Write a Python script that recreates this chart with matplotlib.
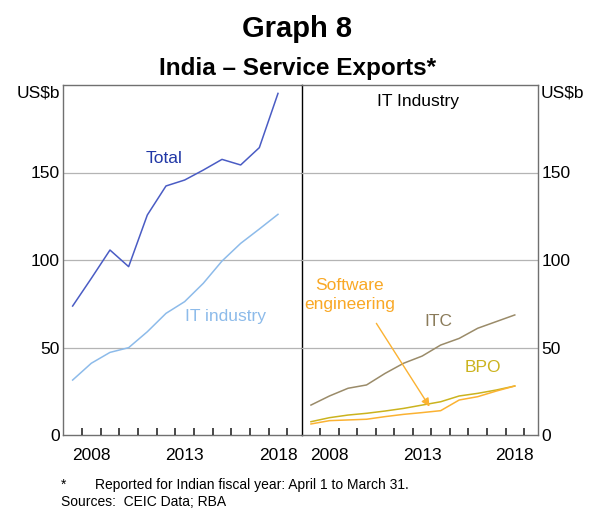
import matplotlib.pyplot as plt
from matplotlib.markers import TICKUP

plt.rcParams['font.family'] = ['Liberation Sans', 'DejaVu Sans']

years = [2007, 2008, 2009, 2010, 2011, 2012, 2013, 2014, 2015, 2016, 2017, 2018]

# left panel, US$b
total = [73.7, 89.5, 105.7, 96.2, 125.7, 142.3, 145.7, 151.4, 157.5, 154.3, 164.2, 195.2]
it_industry = [31.4, 41.0, 47.2, 49.9, 59.0, 69.5, 76.2, 86.7, 99.4, 109.5, 117.7, 126.1]

# right panel, US$b
itc = [17.1, 22.3, 26.7, 28.6, 35.2, 41.0, 45.1, 51.4, 55.2, 61.0, 64.8, 68.6]
bpo = [7.6, 9.9, 11.4, 12.4, 13.7, 15.2, 17.1, 19.0, 22.3, 23.8, 25.7, 28.0]
software = [6.3, 8.2, 8.6, 9.0, 10.5, 11.8, 12.8, 13.9, 20.0, 21.9, 25.1, 28.0]

year_labels = [2008, 2013, 2018]
y_ticks = [0, 50, 100, 150]

W, H = 595, 509
fig = plt.figure(figsize=(W / 100, H / 100), dpi=100)

x0, xm, x1 = 63.3, 301.7, 538.3
ytop, ybot = 85, 435
ax1 = fig.add_axes([x0 / W, 1 - ybot / H, (xm - x0) / W, (ybot - ytop) / H])
ax2 = fig.add_axes([xm / W, 1 - ybot / H, (x1 - xm) / W, (ybot - ytop) / H])
ax2.patch.set_visible(False)

frame = '#707070'
fs = 12.5
boundaries = [y + 0.5 for y in range(2007, 2019)]
for ax in (ax1, ax2):
    ax.set_xlim(2006.5, 2019.27)
    ax.set_ylim(0, 200)
    ax.set_yticks(y_ticks)
    for v in [50, 100, 150]:
        ax.axhline(v, color='#b4b4b4', lw=0.9, zorder=0)
    ax.set_xticks(year_labels)
    ax.tick_params(axis='x', length=0, labelsize=fs, pad=9)
    ax.tick_params(axis='y', length=0, labelsize=fs, pad=2.5)
    # small upward marks at the year boundaries
    ax.plot(boundaries, [0] * len(boundaries), linestyle='none', marker=TICKUP,
            markersize=5, markeredgewidth=1.2, color='#2a2a2a',
            clip_on=False, zorder=6)
    for s in ax.spines.values():
        s.set_color(frame)
        s.set_linewidth(1.0)

ax1.spines['right'].set_color('black')
ax1.spines['right'].set_zorder(5)
ax2.spines['left'].set_visible(False)
ax2.yaxis.tick_right()

# left panel
ax1.plot(years, total, color='#4a5cc4', lw=1.1)
ax1.plot(years, it_industry, color='#8dbbea', lw=1.1)
ax1.text(2011.9, 158, 'Total', color='#2138a6', fontsize=fs, ha='center', va='center')
ax1.text(2015.2, 68, 'IT industry', color='#8dbbea', fontsize=fs, ha='center', va='center')

# right panel
ax2.plot(years, itc, color='#9a8b69', lw=1.1)
ax2.plot(years, bpo, color='#cbb31e', lw=1.1)
ax2.plot(years, software, color='#fbb232', lw=1.1)
ax2.text(2012.8, 190.5, 'IT Industry', color='black', fontsize=fs, ha='center', va='center')
ax2.text(2009.1, 80, 'Software\nengineering', color='#f9a825', fontsize=fs,
         ha='center', va='center', linespacing=1.25)
ax2.text(2013.87, 64.7, 'ITC', color='#8a7b5a', fontsize=fs, ha='center', va='center')
ax2.text(2016.3, 38.7, 'BPO', color='#cbb31e', fontsize=fs, ha='center', va='center')
ax2.annotate('', xy=(2013.4, 16.2), xytext=(2010.53, 63.8),
             arrowprops=dict(arrowstyle='-|>', color='#fbb232', lw=1.0,
                             mutation_scale=12, shrinkA=0, shrinkB=0))

# unit labels
fig.text(38.5 / W, 1 - 93 / H, 'US$b', fontsize=fs, ha='center', va='center')
fig.text(562 / W, 1 - 93 / H, 'US$b', fontsize=fs, ha='center', va='center')

# titles
fig.text(0.5, 1 - 36.7 / H, 'Graph 8', fontsize=21, fontweight='bold',
         ha='center', va='baseline')
fig.text(0.5, 1 - 75 / H, 'India – Service Exports*', fontsize=17.5, fontweight='bold',
         ha='center', va='baseline')

# notes
fig.text(61 / W, 1 - 489 / H, '*', fontsize=10, ha='left', va='baseline')
fig.text(95 / W, 1 - 489 / H, 'Reported for Indian fiscal year: April 1 to March 31.',
         fontsize=10, ha='left', va='baseline')
fig.text(61.5 / W, 1 - 506.5 / H, 'Sources:  CEIC Data; RBA', fontsize=10,
         ha='left', va='baseline')

fig.savefig('out.png', dpi=100)
